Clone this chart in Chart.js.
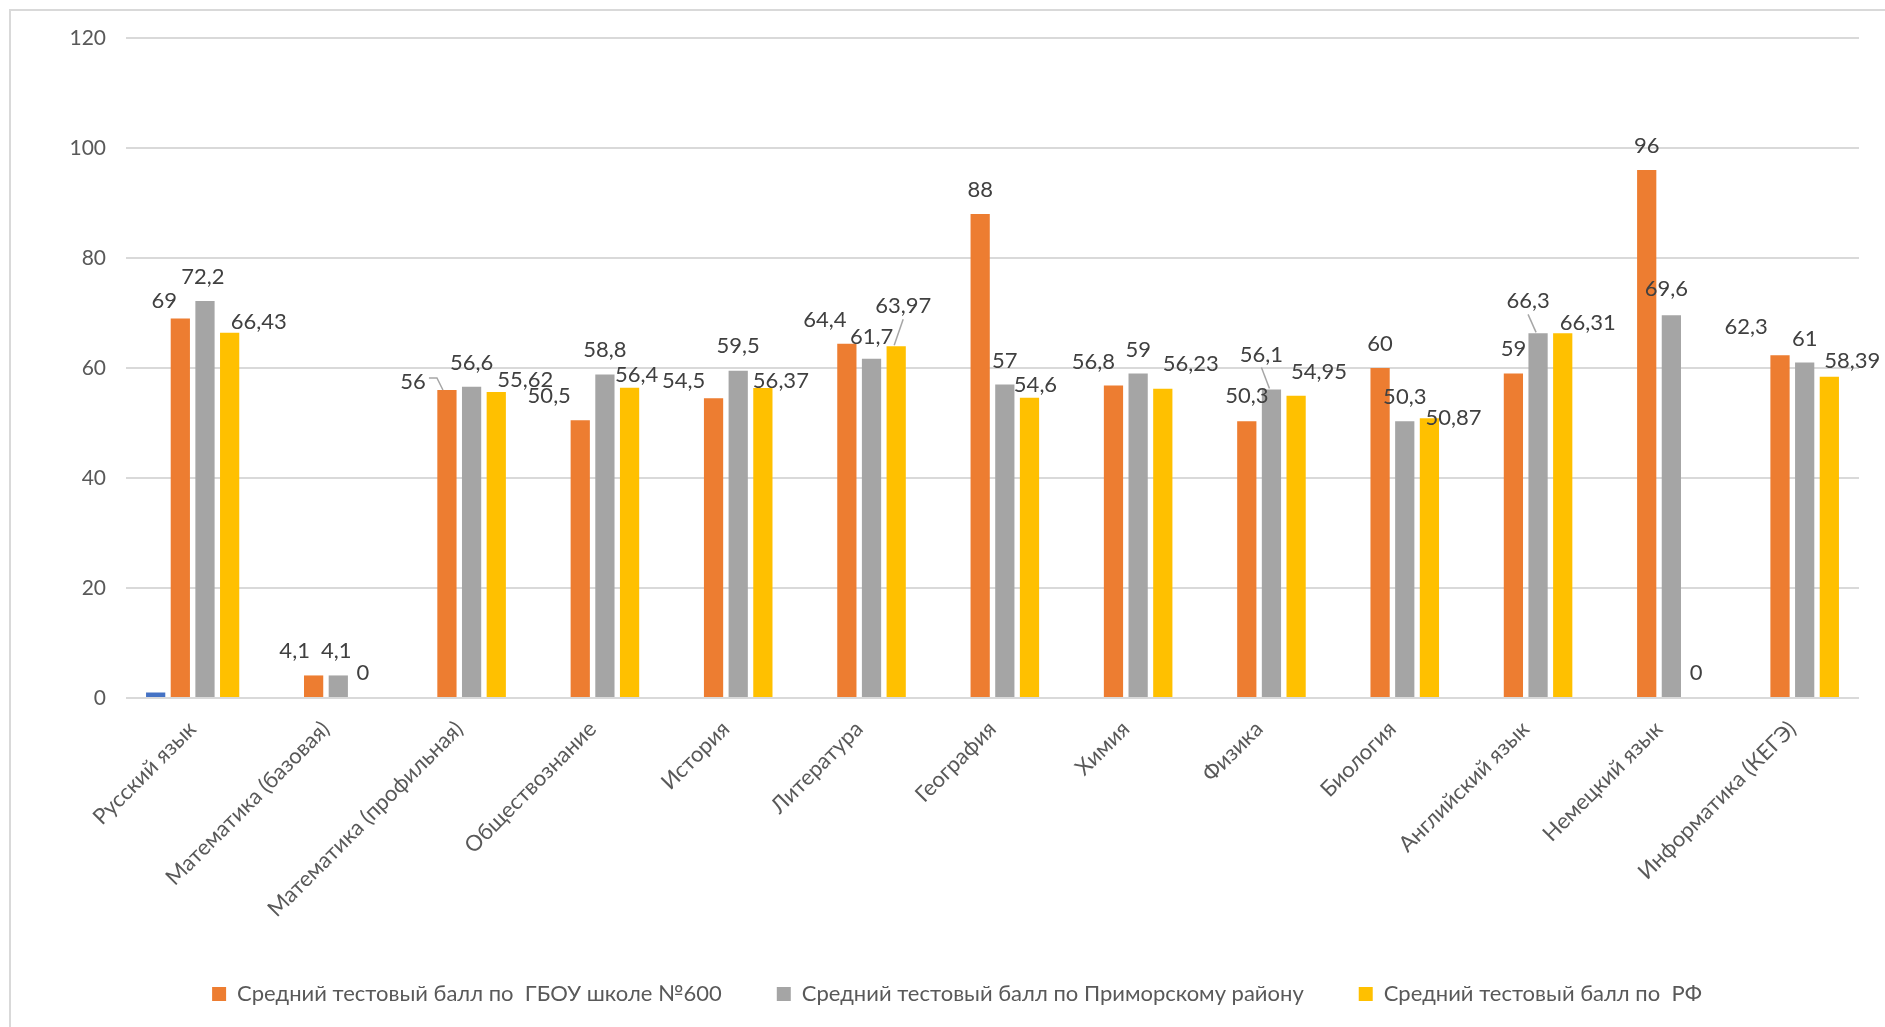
<!DOCTYPE html>
<html lang="ru">
<head>
<meta charset="utf-8">
<title>Средний тестовый балл</title>
<script src="https://cdn.jsdelivr.net/npm/chart.js@4.4.1/dist/chart.umd.min.js"></script>
<style>
  html, body { margin: 0; padding: 0; background: #fff; overflow: hidden; }
  #frame { position: absolute; left: 9px; top: 9px; width: 1900px; height: 1100px; border: 2px solid #d9d9d9; }
  #wrap { position: absolute; left: 0; top: 0; width: 1885px; height: 1027px; }
</style>
</head>
<body>
<div id="frame"></div>
<div id="wrap"><canvas id="examChart"></canvas></div>
<script>
// Subjects on the x axis
const subjects = [
  'Русский язык', 'Математика (базовая)', 'Математика (профильная)', 'Обществознание',
  'История', 'Литература', 'География', 'Химия', 'Физика', 'Биология',
  'Английский язык', 'Немецкий язык', 'Информатика (КЕГЭ)'
];

// Series values
const schoolScores   = [69, 4.1, 56, 50.5, 54.5, 64.4, 88, 56.8, 50.3, 60, 59, 96, 62.3];
const districtScores = [72.2, 4.1, 56.6, 58.8, 59.5, 61.7, 57, 59, 56.1, 50.3, 66.3, 69.6, 61];
const russiaScores   = [66.43, 0, 55.62, 56.4, 56.37, 63.97, 54.6, 56.23, 54.95, 50.87, 66.31, 0, 58.39];
// small unlabeled series visible only at the first subject
const extraScores    = [1, null, null, null, null, null, null, null, null, null, null, null, null];

const seriesNames = [
  'Ряд 1',
  'Средний тестовый балл по  ГБОУ школе №600',
  'Средний тестовый балл по Приморскому району',
  'Средний тестовый балл по  РФ'
];

// y axis ticks
const yMin = 0;
const yMax = 120;
const yStep = 20;

const FONT = 'Lato';
const TEXT = '#595959';

// where each value label sits relative to the top of its bar: [dx, dy above]
const schoolNudge   = [[-16,18],[-19,25],[-34,8],[-31,24],[-30,17],[-22,24],[0,24],[-20,24],[0,25],[0,24],[0,25],[0,24],[-34,28]];
const districtNudge = [[-2,24],[-2,25],[0,24],[0,25],[0,25],[0,22],[0,24],[0,24],[-10,35],[0,24],[-10,32],[-5,26],[0,24]];
const russiaNudge   = [[29,11],[0,25],[29,12],[7,13],[18,7],[7,40],[6,13],[28,25],[23,24],[24,0],[25,10],[0,25],[23,16]];
// labels that are joined to their bar by a thin leader line: [datasetIndex, subjectIndex]
const leaderLines = [[1, 2], [3, 5], [2, 8], [2, 10]];

Chart.defaults.font.family = FONT;
Chart.defaults.font.size = 22;
Chart.defaults.color = TEXT;

function formatValue(v) {
  return String(v).replace('.', ',');
}

function hasLeader(i, j) {
  return leaderLines.some(p => p[0] === i && p[1] === j);
}

// Draws value labels above the bars
const valueLabels = {
  id: 'valueLabels',
  afterDatasetsDraw(chart) {
    const ctx = chart.ctx;
    ctx.save();
    ctx.font = '22px ' + FONT;
    ctx.textAlign = 'center';
    ctx.textBaseline = 'middle';
    chart.data.datasets.forEach((ds, i) => {
      if (!ds.nudge) return;
      const meta = chart.getDatasetMeta(i);
      meta.data.forEach((bar, j) => {
        const v = ds.data[j];
        if (v === null || v === undefined) return;
        const lx = bar.x + ds.nudge[j][0];
        const ly = bar.y - ds.nudge[j][1];
        if (hasLeader(i, j)) {
          ctx.strokeStyle = '#a6a6a6';
          ctx.lineWidth = 1.5;
          ctx.beginPath();
          if (Math.abs(ds.nudge[j][0]) > 20) {
            ctx.moveTo(lx + 16, ly - 4);
            ctx.lineTo(lx + 24, ly - 4);
            ctx.lineTo(bar.x - 4, bar.y);
          } else {
            ctx.moveTo(lx, ly + 13);
            ctx.lineTo(bar.x - 2, bar.y - 1);
          }
          ctx.stroke();
        }
        ctx.fillStyle = '#404040';
        ctx.fillText(formatValue(v), lx, ly);
      });
    });
    ctx.restore();
  }
};

const ctx = document.getElementById('examChart').getContext('2d');
const examChart = new Chart(ctx, {
  type: 'bar',
  data: {
    labels: subjects,
    datasets: [
      { label: seriesNames[0], data: extraScores, backgroundColor: '#4472C4' },
      { label: seriesNames[1], data: schoolScores, backgroundColor: '#ED7D31', nudge: schoolNudge },
      { label: seriesNames[2], data: districtScores, backgroundColor: '#A5A5A5', nudge: districtNudge },
      { label: seriesNames[3], data: russiaScores, backgroundColor: '#FFC000', nudge: russiaNudge }
    ]
  },
  options: {
    responsive: true,
    maintainAspectRatio: false,
    animation: false,
    devicePixelRatio: 1,
    categoryPercentage: 0.74,
    barPercentage: 0.78,
    layout: { padding: { top: 38, right: 26, bottom: 12, left: 55 } },
    plugins: {
      tooltip: { enabled: false },
      legend: {
        position: 'bottom',
        labels: {
          boxWidth: 14,
          boxHeight: 14,
          padding: 55,
          color: TEXT,
          font: { size: 22 },
          filter: item => item.datasetIndex !== 0
        }
      }
    },
    scales: {
      x: {
        grid: { display: false },
        border: { display: false },
        ticks: { color: TEXT, maxRotation: 45, minRotation: 45, autoSkip: false, padding: 10 },
        afterFit(scale) { scale.height = 230; }
      },
      y: {
        min: yMin,
        max: yMax,
        ticks: { stepSize: yStep, color: TEXT, padding: 20, font: { size: 21 } },
        grid: { color: '#d9d9d9', lineWidth: 2, drawTicks: false },
        border: { display: false },
        afterFit(scale) { scale.width = 71; }
      }
    }
  },
  plugins: [valueLabels]
});
</script>
</body>
</html>
